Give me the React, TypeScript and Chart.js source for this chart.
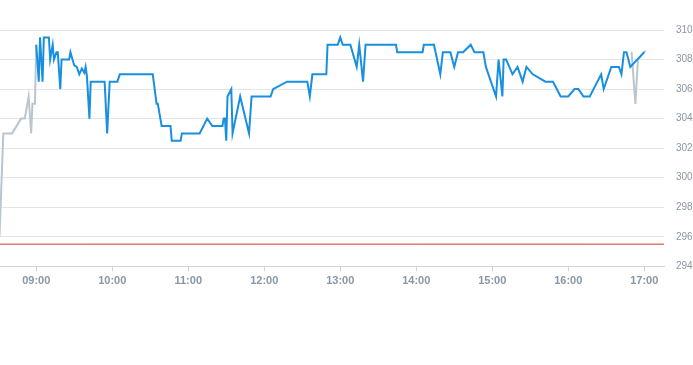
import React, { useEffect, useRef } from "react";
import { Chart, registerables } from "chart.js";

Chart.register(...registerables);

// Regular session (09:00 - 17:00) — times and prices
const sessionTimes = [
  "09:00", "09:02", "09:03", "09:05", "09:06", "09:10", "09:11", "09:13", "09:14", "09:16",
  "09:17", "09:19", "09:20", "09:26", "09:27", "09:30", "09:32", "09:34", "09:36", "09:38",
  "09:39", "09:40", "09:42", "09:43", "09:54", "09:56", "09:58", "10:04", "10:06", "10:32",
  "10:35", "10:36", "10:38", "10:39", "10:46", "10:47", "10:54", "10:55", "11:09", "11:15",
  "11:19", "11:27", "11:28", "11:29", "11:30", "11:31", "11:34", "11:35", "11:41", "11:48",
  "11:50", "12:05", "12:07", "12:18", "12:34", "12:36", "12:38", "12:49", "12:50", "12:58",
  "13:00", "13:02", "13:08", "13:13", "13:15", "13:18", "13:20", "13:44", "13:45", "14:05",
  "14:06", "14:14", "14:19", "14:21", "14:27", "14:30", "14:33", "14:37", "14:43", "14:46",
  "14:53", "14:55", "15:03", "15:05", "15:08", "15:09", "15:11", "15:16", "15:20", "15:24",
  "15:27", "15:32", "15:42", "15:48", "15:54", "16:00", "16:05", "16:08", "16:12", "16:17",
  "16:26", "16:28", "16:34", "16:40", "16:42", "16:44", "16:46", "16:49", "17:00",
];
const sessionPrices = [
  309.0, 306.5, 309.5, 306.5, 309.5, 309.5, 308.0, 309.0, 308.0, 308.5,
  308.5, 306.0, 308.0, 308.0, 308.5, 307.6, 307.5, 307.0, 307.4, 307.1,
  307.5, 306.9, 304.0, 306.5, 306.5, 303.0, 306.5, 306.5, 307.0, 307.0,
  305.0, 305.0, 304.0, 303.5, 303.5, 302.5, 302.5, 303.0, 303.0, 304.0,
  303.5, 303.5, 304.0, 304.0, 302.5, 305.5, 306.0, 303.0, 305.5, 303.0,
  305.5, 305.5, 306.0, 306.5, 306.5, 305.5, 307.0, 307.0, 309.0, 309.0,
  309.5, 309.0, 309.0, 307.5, 309.0, 306.5, 309.0, 309.0, 308.5, 308.5,
  309.0, 309.0, 307.0, 308.5, 308.5, 307.5, 308.5, 308.5, 309.0, 308.5,
  308.5, 307.5, 305.5, 308.0, 305.5, 308.0, 308.0, 307.0, 307.5, 306.5,
  307.5, 307.0, 306.5, 306.5, 305.5, 305.5, 306.0, 306.0, 305.5, 305.5,
  307.0, 306.0, 307.5, 307.5, 307.0, 308.5, 308.5, 307.5, 308.5,
];

// Pre-market / after-hours trading (grey); null price separates the two pieces
const extTimes = [
  "08:31", "08:34", "08:41", "08:48", "08:51", "08:54", "08:56", "08:57", "08:59", "09:00",
  "12:00",
  "16:50", "16:53", "16:55", "17:01",
];
const extPrices = [
  296.0, 303.0, 303.0, 304.0, 304.0, 305.5, 303.0, 305.0, 305.0, 309.0,
  null,
  308.5, 305.0, 308.0, 308.6,
];

const previousClose = 295.5;

const xTickLabels = ["09:00", "10:00", "11:00", "12:00", "13:00", "14:00", "15:00", "16:00", "17:00"];
const yTickValues = [294, 296, 298, 300, 302, 304, 306, 308, 310];

const X_MIN = 511.4;
const X_MAX = 1035.6;

const toMin = (s: string) => {
  const [h, m] = s.split(":").map(Number);
  return h * 60 + m;
};
const fmt = (v: number) => {
  const h = Math.floor(v / 60);
  const m = Math.round(v - h * 60);
  return String(h).padStart(2, "0") + ":" + String(m).padStart(2, "0");
};

export default function App() {
  const ref = useRef<HTMLCanvasElement | null>(null);

  useEffect(() => {
    if (!ref.current) return;
    const session = sessionTimes.map((t, i) => ({ x: toMin(t), y: sessionPrices[i] }));
    const ext = extTimes.map((t, i) => ({ x: toMin(t), y: extPrices[i] }));
    const xTicks = xTickLabels.map(toMin);

    const chart = new Chart(ref.current, {
      type: "line",
      data: {
        datasets: [
          {
            data: session as any,
            borderColor: "#1890df",
            borderWidth: 2,
            pointRadius: 0,
            tension: 0,
            order: 1,
          },
          {
            data: ext as any,
            borderColor: "#b9c6cf",
            borderWidth: 2,
            pointRadius: 0,
            tension: 0,
            spanGaps: false,
            order: 2,
          },
          {
            data: [
              { x: X_MIN, y: previousClose },
              { x: X_MAX, y: previousClose },
            ],
            borderColor: "#c8372d",
            borderWidth: 1,
            pointRadius: 0,
            order: 3,
          },
        ],
      },
      options: {
        responsive: false,
        animation: false,
        layout: { padding: { top: 30, bottom: 74.5, left: 0, right: 0 } },
        plugins: { legend: { display: false }, tooltip: { enabled: false } },
        scales: {
          x: {
            type: "linear",
            min: X_MIN,
            max: X_MAX,
            afterBuildTicks: (scale: any) => {
              scale.ticks = xTicks.map((v) => ({ value: v }));
            },
            grid: {
              drawOnChartArea: false,
              drawTicks: true,
              tickLength: 5,
              color: "#cdd6df",
            },
            border: { display: true, color: "#cdd6df", width: 1 },
            ticks: {
              padding: 3,
              color: "#8a96a3",
              font: { family: "Liberation Sans, Arial, sans-serif", size: 11, weight: "bold" },
              maxRotation: 0,
              autoSkip: false,
              callback: (v: any) => fmt(Number(v)),
            },
          },
          y: {
            type: "linear",
            position: "right",
            min: 294,
            max: 310,
            afterBuildTicks: (scale: any) => {
              scale.ticks = yTickValues.map((v) => ({ value: v }));
            },
            afterFit: (scale: any) => {
              scale.width = 29;
            },
            grid: { color: "#e3e6e9", drawTicks: false },
            border: { display: false },
            ticks: {
              padding: 12,
              color: "#8a96a3",
              font: { family: "Liberation Sans, Arial, sans-serif", size: 10 },
              callback: (v: any) => String(v),
            },
          },
        },
      },
    });
    return () => chart.destroy();
  }, []);

  return (
    <div style={{ position: "absolute", left: 0, top: 0, width: 693, height: 365, background: "#fff" }}>
      <canvas ref={ref} width={693} height={365} style={{ display: "block" }} />
    </div>
  );
}
